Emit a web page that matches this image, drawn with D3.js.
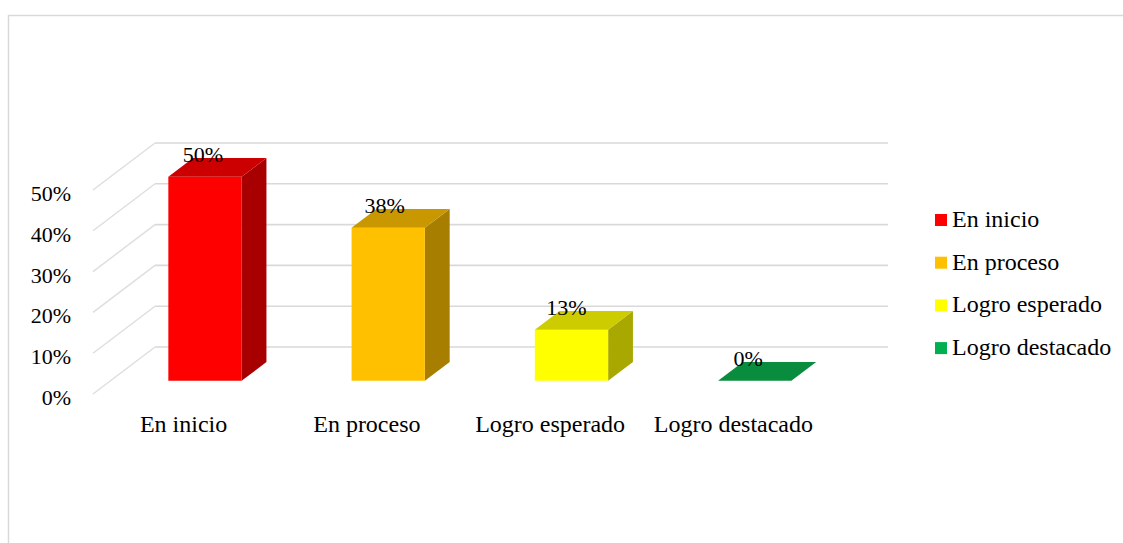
<!DOCTYPE html>
<html>
<head>
<meta charset="utf-8">
<script src="https://cdn.jsdelivr.net/npm/d3@7"></script>
<style>
  html, body { margin: 0; padding: 0; background: #fff; }
  svg { display: block; }
</style>
</head>
<body>
<svg id="chart" width="1123" height="543"></svg>
<script>
// ---- data ----
const categories = ["En inicio", "En proceso", "Logro esperado", "Logro destacado"];
const values = [0.50, 0.375, 0.125, 0.0];
const frontColors = ["#ff0000", "#ffc000", "#ffff00", "#00b050"];
const topColors = ["#cc0000", "#c99700", "#cccc00", "#0a8c3e"];
const sideColors = ["#a80000", "#a87e00", "#a8a800", "#067a33"];
const yTicks = [0, 0.1, 0.2, 0.3, 0.4, 0.5];

// ---- layout ----
const svg = d3.select("#chart");
const W = 1123, H = 543;
const FONT = '"Liberation Serif"';
const depthDX = 62, depthDY = -47;   // full floor depth
const barD0 = 0.28, barD1 = 0.68;    // bar depth position

const x = d3.scaleBand().domain(categories).range([96, 829]).paddingInner(0.6).paddingOuter(0.3);
const xLabel = d3.scaleBand().domain(categories).range([93, 826]);
const xValLabel = d3.scaleBand().domain(categories).range([112, 839]);
const y = d3.scaleLinear().domain([0, 0.5]).range([394, 190]);
const pct = d3.format(".0%");

function P(px, v, d) { return [px + d * depthDX, y(v) + d * depthDY]; }

// frame
svg.append("rect").attr("x", 8.5).attr("y", 15.5).attr("width", W + 10).attr("height", H + 10)
  .attr("fill", "#fff").attr("stroke", "#d9d9d9").attr("stroke-width", 1.5);

const x0 = 93, x1 = 826;

// gridlines: back wall horizontals + left wall diagonals
const grid = svg.append("g");
yTicks.forEach(t => {
  const b0 = P(x0, t, 1), b1 = P(x1, t, 1), f0 = P(x0, t, 0);
  grid.append("line").attr("x1", b0[0]).attr("y1", b0[1]).attr("x2", b1[0]).attr("y2", b1[1])
    .attr("stroke", "#d9d9d9").attr("stroke-width", 1.6);
  grid.append("line").attr("x1", f0[0]).attr("y1", f0[1]).attr("x2", b0[0]).attr("y2", b0[1])
    .attr("stroke", "#dedede").attr("stroke-width", 1.4);
});

// y axis labels
svg.append("g").selectAll("text").data(yTicks).join("text")
  .attr("x", 71).attr("y", d => y(d) + 11)
  .attr("text-anchor", "end").attr("font-size", 22).style("font-family", FONT)
  .text(d => pct(d));

// bars
const bars = svg.append("g");
categories.forEach((c, i) => {
  const v = values[i];
  const xl = x(c), xr = x(c) + x.bandwidth();
  const ptStr = pts => pts.map(p => p.join(",")).join(" ");
  bars.append("polygon").attr("points", ptStr([P(xr, 0, barD0), P(xr, 0, barD1), P(xr, v, barD1), P(xr, v, barD0)]))
    .attr("fill", sideColors[i]);
  bars.append("polygon").attr("points", ptStr([P(xl, 0, barD0), P(xr, 0, barD0), P(xr, v, barD0), P(xl, v, barD0)]))
    .attr("fill", frontColors[i]);
  bars.append("polygon").attr("points", ptStr([P(xl, v, barD0), P(xr, v, barD0), P(xr, v, barD1), P(xl, v, barD1)]))
    .attr("fill", topColors[i]);
  const lp = P(0, v, barD1);
  bars.append("text").attr("x", xValLabel(c) + xValLabel.bandwidth() / 2).attr("y", lp[1] + 4)
    .attr("text-anchor", "middle").attr("font-size", 22).style("font-family", FONT).text(pct(v));
});

// category labels
svg.append("g").selectAll("text").data(categories).join("text")
  .attr("x", d => xLabel(d) + xLabel.bandwidth() / 2 - 1)
  .attr("y", 432).attr("text-anchor", "middle").attr("font-size", 24).style("font-family", FONT)
  .text(d => d);

// legend
const lg = svg.append("g");
categories.forEach((c, i) => {
  const yy = 214 + i * 42.7;
  lg.append("rect").attr("x", 935).attr("y", yy).attr("width", 12).attr("height", 12).attr("fill", frontColors[i]);
  lg.append("text").attr("x", 952).attr("y", yy + 13).attr("font-size", 24).style("font-family", FONT).text(c);
});
</script>
</body>
</html>
